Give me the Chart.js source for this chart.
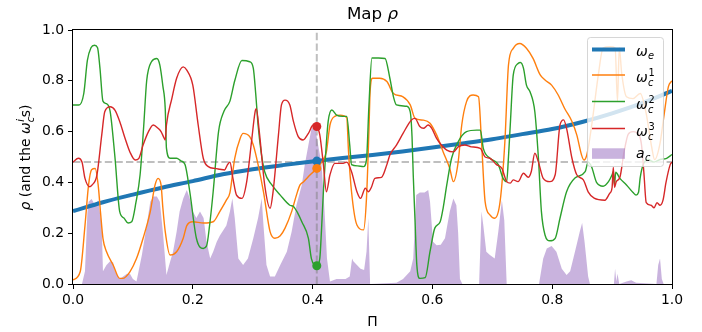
<!DOCTYPE html>
<html><head><meta charset="utf-8">
<script src="https://cdn.jsdelivr.net/npm/chart.js@4.4.0/dist/chart.umd.min.js"></script>
<style>html,body{margin:0;padding:0;background:#fff;}canvas{display:block;}</style>
</head><body>
<canvas id="c" width="702" height="332"></canvas>
<script>
// ---- data (x = Π, y = value) ----
const omegaE = [[0,.287],[.05,.322],[.1,.352],[.15,.38],[.2,.405],[.25,.432],[.3,.452],[.35,.468],[.407,.484],[.45,.496],[.5,.508],[.55,.522],[.6,.537],[.65,.553],[.7,.57],[.75,.59],[.8,.61],[.85,.638],[.9,.672],[.95,.712],[1,.76]];
const omegaC1 = [[0,.016],[.012,.048],[.02,.23],[.026,.39],[.031,.45],[.037,.455],[.042,.39],[.046,.28],[.05,.18],[.056,.127],[.067,.075],[.078,.022],[.083,.022],[.095,.048],[.106,.1],[.117,.18],[.129,.285],[.137,.39],[.142,.416],[.147,.39],[.15,.3],[.154,.206],[.162,.114],[.173,.127],[.184,.18],[.19,.23],[.2,.245],[.218,.24],[.234,.245],[.245,.285],[.256,.33],[.262,.36],[.27,.495],[.279,.573],[.284,.593],[.295,.58],[.301,.547],[.309,.47],[.318,.363],[.329,.206],[.337,.18],[.346,.19],[.354,.22],[.365,.285],[.373,.35],[.379,.39],[.385,.403],[.396,.43],[.407,.455],[.415,.48],[.423,.52],[.429,.626],[.437,.66],[.446,.665],[.457,.655],[.46,.52],[.465,.363],[.474,.232],[.485,.213],[.49,.34],[.494,.6],[.496,.757],[.5,.81],[.512,.81],[.524,.797],[.535,.75],[.551,.737],[.563,.705],[.571,.652],[.585,.645],[.596,.633],[.607,.587],[.618,.52],[.629,.455],[.635,.403],[.643,.48],[.649,.626],[.657,.718],[.668,.744],[.677,.737],[.682,.56],[.688,.324],[.696,.272],[.704,.259],[.713,.324],[.721,.56],[.727,.862],[.735,.928],[.746,.947],[.757,.928],[.768,.888],[.78,.823],[.788,.803],[.799,.783],[.81,.744],[.821,.69],[.833,.64],[.841,.587],[.849,.508],[.853,.488],[.858,.51],[.866,.626],[.877,.823],[.885,.93],[.897,.934],[.905,.93],[.909,.72],[.912,.93],[.916,.83],[.924,.737],[.935,.73],[.947,.75],[.957,.67],[.966,.54],[.971,.49],[.98,.554],[.987,.67],[.994,.777],[1,.8]];
const omegaC2 = [[0,.705],[.01,.705],[.018,.75],[.024,.88],[.03,.93],[.036,.94],[.041,.93],[.045,.85],[.05,.72],[.056,.71],[.062,.68],[.07,.5],[.078,.285],[.085,.26],[.092,.24],[.098,.245],[.105,.32],[.112,.43],[.118,.62],[.123,.8],[.131,.875],[.14,.888],[.145,.862],[.15,.78],[.154,.69],[.156,.535],[.162,.495],[.173,.495],[.18,.485],[.187,.47],[.195,.363],[.206,.18],[.2175,.14],[.223,.15],[.228,.23],[.234,.363],[.243,.6],[.252,.68],[.262,.72],[.27,.8],[.282,.88],[.295,.875],[.301,.85],[.305,.75],[.309,.626],[.314,.52],[.32,.442],[.332,.39],[.346,.35],[.362,.31],[.368,.305],[.375,.28],[.382,.245],[.393,.18],[.398,.10],[.407,.072],[.412,.10],[.415,.22],[.418,.363],[.422,.52],[.426,.64],[.432,.685],[.44,.665],[.45,.66],[.457,.66],[.462,.547],[.465,.47],[.475,.465],[.485,.462],[.49,.49],[.494,.7],[.499,.89],[.51,.89],[.521,.888],[.529,.81],[.535,.737],[.54,.705],[.557,.70],[.563,.678],[.566,.58],[.568,.43],[.571,.25],[.574,.075],[.579,.022],[.588,.025],[.596,.127],[.604,.22],[.613,.245],[.618,.3],[.624,.39],[.632,.495],[.643,.56],[.657,.60],[.674,.606],[.68,.606],[.685,.534],[.696,.495],[.71,.47],[.718,.416],[.724,.403],[.727,.5],[.73,.626],[.735,.823],[.743,.868],[.747,.872],[.752,.85],[.757,.783],[.763,.757],[.771,.678],[.777,.495],[.782,.285],[.788,.193],[.796,.17],[.805,.18],[.813,.259],[.824,.363],[.838,.417],[.855,.442],[.86,.48],[.866,.46],[.874,.40],[.885,.385],[.894,.403],[.9,.43],[.902,.442],[.904,.39],[.906,.44],[.913,.416],[.924,.39],[.935,.36],[.94,.35],[.944,.36],[.947,.42],[.952,.47],[.96,.49],[.97,.48],[.98,.49],[.991,.495],[1,.51]];
const omegaC3 = [[0,.48],[.009,.495],[.015,.48],[.02,.416],[.028,.383],[.032,.39],[.04,.43],[.048,.587],[.053,.678],[.062,.698],[.07,.685],[.078,.64],[.087,.573],[.095,.52],[.104,.488],[.11,.495],[.117,.547],[.126,.6],[.134,.626],[.142,.613],[.147,.6],[.152,.575],[.154,.567],[.156,.626],[.165,.73],[.173,.81],[.184,.855],[.19,.842],[.2,.783],[.209,.626],[.2175,.495],[.226,.462],[.237,.455],[.245,.452],[.253,.449],[.258,.47],[.262,.48],[.267,.416],[.273,.35],[.282,.337],[.29,.403],[.298,.56],[.304,.678],[.306,.69],[.311,.6],[.32,.39],[.329,.298],[.334,.363],[.343,.587],[.348,.705],[.354,.724],[.362,.705],[.368,.64],[.376,.58],[.384,.567],[.393,.593],[.401,.626],[.407,.62],[.412,.587],[.418,.47],[.423,.363],[.429,.43],[.437,.475],[.451,.475],[.457,.48],[.465,.442],[.474,.363],[.48,.337],[.488,.377],[.493,.363],[.498,.38],[.504,.416],[.515,.42],[.524,.47],[.529,.508],[.54,.547],[.551,.593],[.565,.646],[.571,.652],[.579,.62],[.585,.613],[.593,.626],[.599,.613],[.607,.573],[.615,.547],[.624,.527],[.635,.52],[.643,.54],[.654,.547],[.665,.54],[.68,.534],[.688,.50],[.696,.495],[.707,.47],[.716,.455],[.724,.403],[.73,.397],[.735,.41],[.743,.403],[.752,.436],[.76,.42],[.765,.442],[.771,.515],[.777,.48],[.785,.416],[.796,.403],[.805,.43],[.813,.626],[.819,.646],[.824,.613],[.833,.495],[.841,.43],[.852,.41],[.86,.363],[.87,.338],[.888,.33],[.896,.357],[.9,.38],[.902,.46],[.904,.38],[.907,.403],[.913,.42],[.92,.52],[.927,.59],[.935,.6],[.944,.59],[.949,.55],[.953,.44],[.957,.32],[.965,.31],[.97,.3],[.975,.32],[.98,.31],[.985,.33],[.99,.40],[.997,.47],[1,.48]];
const aC = [[0,0],[.015,0],[.02,.05],[.024,.28],[.026,.324],[.031,.335],[.037,.31],[.042,.33],[.048,.23],[.05,.05],[.056,.075],[.062,.09],[.067,.085],[.07,.05],[.078,.02],[.09,.04],[.095,.04],[.1,.02],[.106,.01],[.115,.114],[.123,.23],[.129,.324],[.134,.344],[.14,.344],[.145,.324],[.15,.206],[.156,.035],[.162,.087],[.167,.127],[.173,.206],[.178,.285],[.184,.337],[.19,.37],[.195,.337],[.2,.285],[.206,.26],[.212,.285],[.218,.26],[.223,.166],[.229,.1],[.234,.127],[.24,.166],[.245,.19],[.256,.23],[.262,.285],[.266,.337],[.27,.26],[.276,.1],[.284,.075],[.292,.1],[.301,.18],[.309,.26],[.315,.337],[.318,.23],[.323,.075],[.329,.03],[.337,.03],[.346,.075],[.357,.127],[.365,.206],[.373,.31],[.382,.39],[.387,.47],[.393,.547],[.398,.61],[.404,.62],[.409,.55],[.415,.47],[.42,.285],[.424,.1],[.429,.01],[.44,.02],[.455,.02],[.462,.03],[.466,.1],[.468,.09],[.474,.075],[.48,.06],[.486,.055],[.49,.127],[.493,.26],[.496,0],[.54,.005],[.551,.02],[.563,.05],[.568,.1],[.573,.35],[.579,.36],[.587,.36],[.593,.37],[.596,.325],[.599,.23],[.601,.166],[.607,.153],[.614,.155],[.621,.18],[.629,.285],[.635,.337],[.64,.31],[.643,.2],[.646,.02],[.65,0],[.678,0],[.682,.285],[.685,.23],[.69,.127],[.696,.114],[.704,.1],[.71,.206],[.716,.33],[.72,.25],[.724,0],[.778,0],[.785,.1],[.791,.14],[.799,.15],[.807,.127],[.816,.06],[.824,.035],[.83,.05],[.838,.127],[.846,.206],[.85,.24],[.854,.166],[.86,.03],[.863,0],[.903,0],[.905,.06],[.907,.01],[.909,.04],[.912,0],[.924,.01],[.932,.015],[.94,.005],[.974,0],[.977,.075],[.98,.1],[.983,.02],[.986,0],[1,0]];
const markerPi = 0.407;
const markerValues = [0.62, 0.484, 0.455, 0.072];   // ω_c^3, ω_e, ω_c^1, ω_c^2
const refRho = 0.48;
const xTicks = [0, 0.2, 0.4, 0.6, 0.8, 1.0];
const yTicks = [0, 0.2, 0.4, 0.6, 0.8, 1.0];
const titleText = ['Map ', 'ρ'];
const xLabelText = 'Π';

const C = {blue:'#1f77b4', orange:'#ff7f0e', green:'#2ca02c', red:'#d62728', purple:'rgba(148,103,189,0.5)'};
const FONT = '"DejaVu Sans", sans-serif';
const xy = a => a.map(([x,y]) => ({x, y}));

function mathLabel(ctx, x, y, size, base, sub, sup, color) {
  ctx.fillStyle = color || '#000';
  ctx.textBaseline = 'alphabetic'; ctx.textAlign = 'left';
  ctx.font = `italic ${size}px ${FONT}`;
  ctx.fillText(base, x, y);
  let w = ctx.measureText(base).width;
  const s = size * 0.7;
  let ww = 0;
  if (sub) {
    ctx.font = `italic ${s}px ${FONT}`;
    ctx.fillText(sub, x + w + 0.3, y + size * (sup ? 0.3 : 0.22));
    ww = Math.max(ww, ctx.measureText(sub).width);
  }
  if (sup) {
    ctx.font = (/[0-9]/.test(sup) ? '' : 'italic ') + `${s}px ${FONT}`;
    ctx.fillText(sup, x + w + 0.8, y - size * 0.42);
    ww = Math.max(ww, ctx.measureText(sup).width + 0.5);
  }
  return w + ww + 0.5;
}

const legendItems = [
  {kind:'line', color:C.blue, width:4, base:'ω', sub:'e'},
  {kind:'line', color:C.orange, width:1.4, base:'ω', sub:'c', sup:'1'},
  {kind:'line', color:C.green, width:1.4, base:'ω', sub:'c', sup:'2'},
  {kind:'line', color:C.red, width:1.4, base:'ω', sub:'c', sup:'3'},
  {kind:'patch', color:C.purple, base:'a', sub:'c'}
];

const decor = {
  id:'decor',
  afterDatasetsDraw(chart) {
    const ctx = chart.ctx, a = chart.chartArea;
    ctx.save();
    ctx.strokeStyle = '#000'; ctx.lineWidth = 1;
    ctx.strokeRect(Math.round(a.left) - 0.5, Math.round(a.top) - 0.5, Math.round(a.right - a.left) + 1, Math.round(a.bottom - a.top) + 1);
    // legend
    const bx = 587.5, by = 37.5, bw = 76, bh = 129, r = 3;
    ctx.beginPath();
    ctx.moveTo(bx + r, by); ctx.lineTo(bx + bw - r, by); ctx.arcTo(bx + bw, by, bx + bw, by + r, r);
    ctx.lineTo(bx + bw, by + bh - r); ctx.arcTo(bx + bw, by + bh, bx + bw - r, by + bh, r);
    ctx.lineTo(bx + r, by + bh); ctx.arcTo(bx, by + bh, bx, by + bh - r, r);
    ctx.lineTo(bx, by + r); ctx.arcTo(bx, by, bx + r, by, r); ctx.closePath();
    ctx.fillStyle = 'rgba(255,255,255,0.8)'; ctx.fill();
    ctx.strokeStyle = 'rgba(204,204,204,0.8)'; ctx.lineWidth = 1; ctx.stroke();
    const rowY = [49.5, 75, 101.5, 128.5, 153.3];
    legendItems.forEach((it, i) => {
      const y = rowY[i];
      if (it.kind === 'line') {
        ctx.strokeStyle = it.color; ctx.lineWidth = it.width; ctx.lineCap = 'butt';
        ctx.beginPath(); ctx.moveTo(592, y); ctx.lineTo(625, y); ctx.stroke();
        mathLabel(ctx, 636, y + (it.sup ? 7 : 6.5), 14, it.base, it.sub, it.sup);
      } else {
        ctx.fillStyle = it.color; ctx.fillRect(592, y - 5, 33, 10.5);
        mathLabel(ctx, 636, y + 4.5, 14, it.base, it.sub, it.sup);
      }
    });
    ctx.restore();
  },
  afterDraw(chart) {
    const ctx = chart.ctx, a = chart.chartArea;
    const cx = (a.left + a.right) / 2;
    ctx.save();
    ctx.fillStyle = '#000'; ctx.textBaseline = 'alphabetic';
    // title
    ctx.font = `16.7px ${FONT}`;
    const w1 = ctx.measureText(titleText[0]).width;
    ctx.font = `italic 16.7px ${FONT}`;
    const w2 = ctx.measureText(titleText[1]).width;
    let x0 = cx - (w1 + w2) / 2;
    ctx.font = `16.7px ${FONT}`; ctx.textAlign = 'left';
    ctx.fillText(titleText[0], x0, 18.5);
    ctx.font = `italic 16.7px ${FONT}`;
    ctx.fillText(titleText[1], x0 + w1, 18.5);
    // x label
    ctx.font = `13.9px ${FONT}`; ctx.textAlign = 'center';
    ctx.fillText(xLabelText, cx, 325.5);
    // y label (rotated)
    const cy = (a.top + a.bottom) / 2;
    ctx.translate(30, cy); ctx.rotate(-Math.PI / 2);
    const s = 13.9;
    const parts = [['ρ', true], [' (and the ', false]];
    ctx.textAlign = 'left';
    let widths = parts.map(([t, it]) => { ctx.font = (it ? 'italic ' : '') + `${s}px ${FONT}`; return ctx.measureText(t).width; });
    ctx.font = `italic ${s}px ${FONT}`; const wOm = ctx.measureText('ω').width;
    ctx.font = `italic ${s * 0.7}px ${FONT}`; const wSc = Math.max(ctx.measureText('c').width, ctx.measureText('i').width) + 1;
    ctx.font = `${s}px ${FONT}`; const wEnd = ctx.measureText('s)').width;
    const total = widths[0] + widths[1] + wOm + wSc + wEnd;
    let x = -total / 2;
    parts.forEach(([t, it], i) => { ctx.font = (it ? 'italic ' : '') + `${s}px ${FONT}`; ctx.fillText(t, x, 0); x += widths[i]; });
    x += mathLabel(ctx, x, 0, s, 'ω', 'c', 'i') - 0.5;
    ctx.font = `${s}px ${FONT}`; ctx.fillStyle = '#000';
    ctx.fillText('s)', x, 0);
    ctx.restore();
  }
};

const lineDs = (data, color, w, order) => ({data: xy(data), borderColor: color, borderWidth: w, pointRadius: 0, fill: false, cubicInterpolationMode: 'monotone', order});

new Chart(document.getElementById('c'), {
  type: 'line',
  data: {
    datasets: [
      {data: xy(aC), borderWidth: 0, borderColor: 'rgba(0,0,0,0)', backgroundColor: C.purple, fill: 'origin', pointRadius: 0, order: 20},
      {data: [{x:0, y:refRho}, {x:1, y:refRho}], borderColor: 'rgba(128,128,128,0.5)', borderWidth: 2, borderDash: [7.4, 3.2], pointRadius: 0, fill: false, order: 15},
      {data: [{x:markerPi, y:0}, {x:markerPi, y:1}], borderColor: 'rgba(128,128,128,0.5)', borderWidth: 2, borderDash: [7.4, 3.2], pointRadius: 0, fill: false, order: 15},
      lineDs(omegaE, C.blue, 4, 10),
      lineDs(omegaC1, C.orange, 1.4, 9),
      lineDs(omegaC2, C.green, 1.4, 8),
      lineDs(omegaC3, C.red, 1.4, 7),
      {data: markerValues.map(v => ({x: markerPi, y: v})), showLine: false, pointRadius: 4.5, pointBorderWidth: 0,
       pointBackgroundColor: [C.red, C.blue, C.orange, C.green], borderColor: 'rgba(0,0,0,0)', order: 1}
    ]
  },
  options: {
    responsive: false, animation: false, devicePixelRatio: 1, events: [],
    layout: {padding: {left: 0, right: 30, top: 30, bottom: 0}},
    plugins: {legend: {display: false}, tooltip: {enabled: false}, title: {display: false}},
    scales: {
      x: {type: 'linear', min: 0, max: 1,
          afterBuildTicks: s => { s.ticks = xTicks.map(v => ({value: v})); },
          ticks: {callback: v => v.toFixed(1), font: {family: FONT, size: 13.9}, color: '#000', padding: 3, maxRotation: 0, autoSkip: false},
          grid: {drawOnChartArea: false, drawTicks: true, tickLength: 5, color: '#000', lineWidth: 1},
          border: {display: false},
          afterFit: s => { s.height = 48; }},
      y: {type: 'linear', min: 0, max: 1,
          afterBuildTicks: s => { s.ticks = yTicks.map(v => ({value: v})); },
          ticks: {callback: v => v.toFixed(1), font: {family: FONT, size: 13.9}, color: '#000', padding: 4, autoSkip: false},
          grid: {drawOnChartArea: false, drawTicks: true, tickLength: 5, color: '#000', lineWidth: 1},
          border: {display: false},
          afterFit: s => { s.width = 73; }}
    }
  },
  plugins: [decor]
});
</script>
</body></html>
